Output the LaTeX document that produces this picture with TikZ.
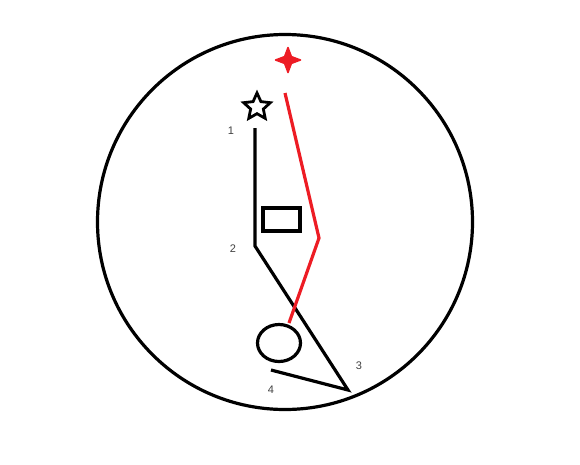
\documentclass[tikz,border=0pt]{standalone}
\usepackage{fontspec}
\setmainfont{Liberation Sans}
\usepackage{tikz}
\usetikzlibrary{shapes.geometric,positioning}
\definecolor{pinred}{RGB}{237,28,36}
\tikzset{
	x=1pt, y=-1pt,
	stroke/.style = {line width=3.2pt, line join=miter},
	num/.style = {text=black!75, inner sep=0pt, font=\fontsize{11}{13}\selectfont},
}

\begin{document}
\begin{tikzpicture}
		\useasboundingbox (0,0) rectangle (580,464);

		\node[draw, circle, stroke, minimum size=375pt, inner sep=0pt] at (285,222) (dial) {};

		\node[draw, star, star points=5, star point ratio=2.1, line width=2.8pt, minimum size=28pt, inner sep=0pt] at (257,107) (star) {};
		\node[fill=pinred, draw=pinred, line width=1.5pt, line join=round, star, star points=4, star point ratio=2.6, minimum size=25pt, inner sep=0pt] at (288,60) (spark) {};

		\node[draw, rectangle, stroke, minimum width=37pt, minimum height=23pt, inner sep=0pt] at (281.5,219.5) (box) {};
		\node[draw, ellipse, stroke, minimum width=43pt, minimum height=37pt, inner sep=0pt] at (279,343) (ball) {};

		\coordinate (p1) at (255,128);
		\coordinate (p2) at (255,246);
		\coordinate (p3) at (348,390);
		\coordinate (p4) at (271,370);

		\coordinate (r1) at (285,93);
		\coordinate (r2) at (319,238);
		\coordinate (r3) at (289,323);

		\node[num] at (231,131) (l1) {1};
		\node[num] at (233,249) (l2) {2};
		\node[num] at (359,366) (l3) {3};
		\node[num] at (271,390) (l4) {4};

		\draw[stroke] (p1) -- (p2) -- (p3) -- (p4);
		\draw[stroke, draw=pinred] (r1) -- (r2) -- (r3);
	\end{tikzpicture}
\end{document}
